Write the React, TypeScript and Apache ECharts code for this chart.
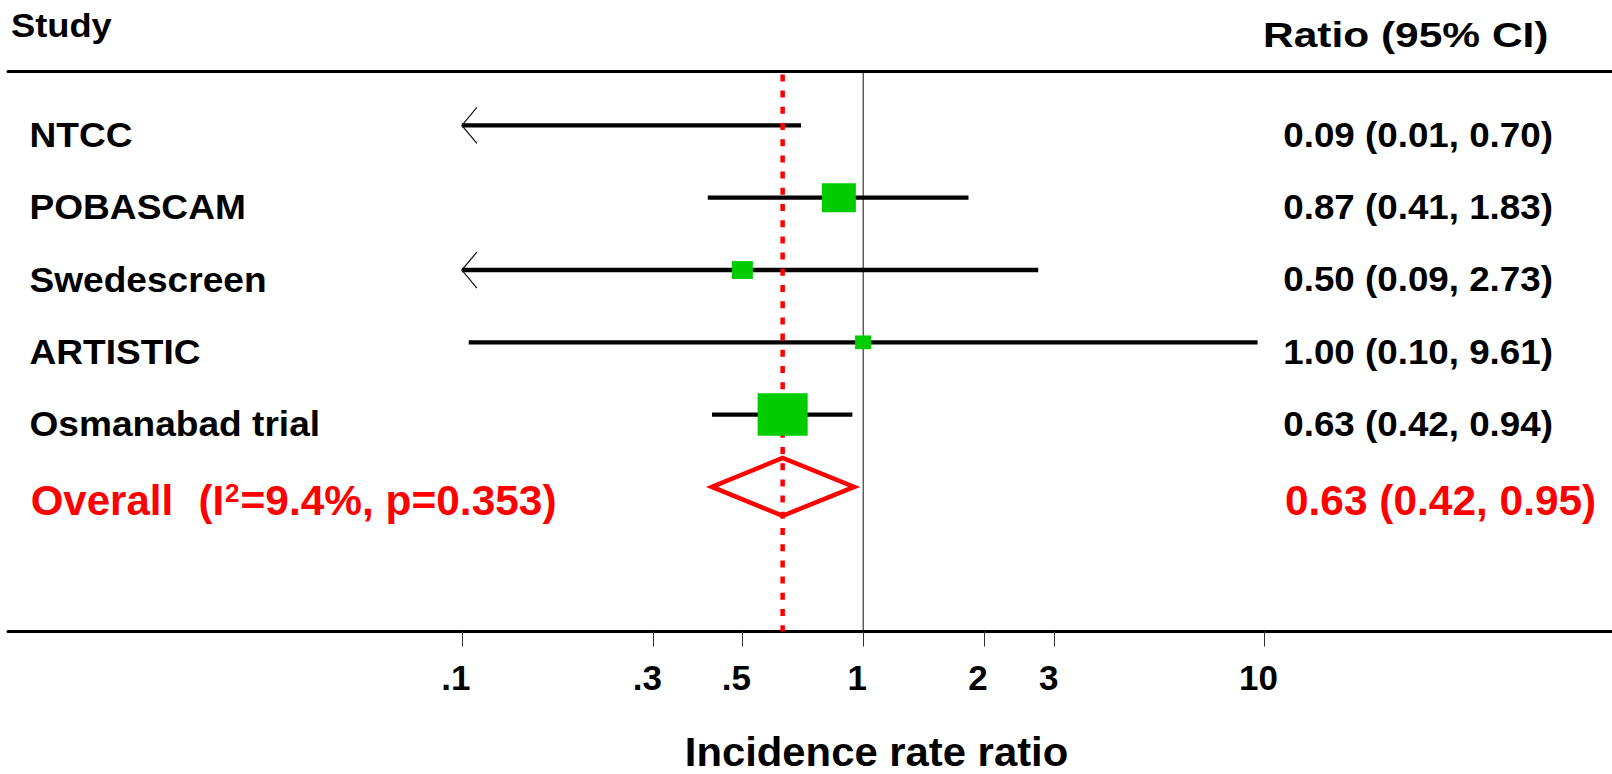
import React, { useEffect, useRef } from "react";
import * as echarts from "echarts";

// ---- data ----
const studies = ["NTCC", "POBASCAM", "Swedescreen", "ARTISTIC", "Osmanabad trial"];
const ratios = [0.09, 0.87, 0.5, 1.0, 0.63];
const ciLow = [0.01, 0.41, 0.09, 0.104, 0.42];
const ciHigh = [0.7, 1.83, 2.73, 9.61, 0.94];
const weights = [1.5, 26.0, 10.0, 5.9, 56.6];
const overallEst = 0.63;
const overallLow = 0.42;
const overallHigh = 0.95;
const overallI2 = "9.4%";
const overallP = "0.353";
const tickValues = [0.1, 0.3, 0.5, 1, 2, 3, 10];
const tickLabels = [".1", ".3", ".5", "1", "2", "3", "10"];
const axisFloor = 0.1;

// ---- layout ----
const X_MIN = -2.131;
const X_MAX = 1.866;
const Y_MIN = -0.75;
const Y_MAX = 7;
const FONT = '"Liberation Sans", Arial, sans-serif';
const GREEN = "#00CC00";
const RED = "#FF0000";

const fmt = (v: number) => v.toFixed(2);

export default function App() {
  const ref = useRef<HTMLDivElement>(null);
  useEffect(() => {
    if (!ref.current) return;
    const chart = echarts.init(ref.current, null, { renderer: "svg" });
    const lg = (v: number) => Math.log10(v);
    const floorLog = lg(axisFloor);
    const overallRow = studies.length;

    const option: any = {
      animation: false,
      backgroundColor: "#ffffff",
      grid: { left: 8, right: 0, top: 71.2, bottom: 142.5, containLabel: false, outerBoundsMode: "none" },
      xAxis: [
        {
          type: "value",
          position: "bottom",
          min: X_MIN,
          max: X_MAX,
          splitLine: { show: false },
          axisLine: { show: true, onZero: false, lineStyle: { color: "#000", width: 3 } },
          axisTick: { show: true, customValues: tickValues.map(lg), length: 15, lineStyle: { color: "#333", width: 1 } },
          axisLabel: {
            show: true,
            customValues: tickValues.map(lg),
            formatter: (val: number) => {
              const i = tickValues.findIndex((t) => Math.abs(lg(t) - val) < 1e-6);
              return i >= 0 ? tickLabels[i] : "";
            },
            fontSize: 35,
            fontWeight: "bold",
            fontFamily: FONT,
            color: "#000",
            margin: 28,
            padding: [0, 12, 0, 0],
          },
        },
        {
          type: "value",
          position: "top",
          min: X_MIN,
          max: X_MAX,
          splitLine: { show: false },
          axisLine: { show: true, onZero: false, lineStyle: { color: "#000", width: 3 } },
          axisTick: { show: false },
          axisLabel: { show: false },
        },
      ],
      yAxis: { type: "value", min: Y_MIN, max: Y_MAX, inverse: true, show: false },
      series: [
        {
          type: "line",
          z: 1,
          silent: true,
          symbol: "none",
          data: [[0, Y_MIN], [0, Y_MAX]],
          lineStyle: { color: "#111", width: 1 },
        },
        {
          type: "custom",
          z: 2,
          silent: true,
          encode: { x: [0, 1], y: 2 },
          data: studies.map((_, i) => [lg(ciLow[i]), lg(ciHigh[i]), i]),
          renderItem: (_p: any, api: any) => {
            const lo = api.value(0);
            const hi = api.value(1);
            const row = api.value(2);
            const p1 = api.coord([Math.max(lo, floorLog), row]);
            const p2 = api.coord([hi, row]);
            const children: any[] = [
              {
                type: "line",
                shape: { x1: p1[0], y1: p1[1], x2: p2[0], y2: p2[1] },
                style: { stroke: "#000", lineWidth: 4.3 },
              },
            ];
            if (lo < floorLog) {
              children.push({
                type: "polyline",
                shape: { points: [[p1[0] + 15, p1[1] - 18], [p1[0], p1[1]], [p1[0] + 15, p1[1] + 18]] },
                style: { stroke: "#111", lineWidth: 1.2, fill: "none" },
              });
            }
            return { type: "group", children };
          },
        },
        {
          type: "line",
          z: 3,
          silent: true,
          symbol: "none",
          data: [[lg(overallEst), Y_MIN], [lg(overallEst), Y_MAX]],
          lineStyle: { color: RED, width: 4.5, type: [7, 9.2], dashOffset: 12.9 },
        },
        {
          type: "custom",
          z: 4,
          silent: true,
          encode: { x: 0, y: 1 },
          data: studies
            .map((_, i) => [lg(ratios[i]), i, weights[i]])
            .filter((d) => d[0] >= floorLog),
          renderItem: (_p: any, api: any) => {
            const c = api.coord([api.value(0), api.value(1)]);
            const w = 6.65 * Math.sqrt(api.value(2));
            const h = w * 0.85;
            return {
              type: "rect",
              shape: { x: c[0] - w / 2, y: c[1] - h / 2, width: w, height: h },
              style: { fill: GREEN },
            };
          },
        },
        {
          type: "custom",
          z: 4,
          silent: true,
          encode: { x: [0, 1, 2], y: 3 },
          data: [[lg(overallLow), lg(overallEst), lg(overallHigh), overallRow]],
          renderItem: (_p: any, api: any) => {
            const row = api.value(3);
            const l = api.coord([api.value(0), row]);
            const t = api.coord([api.value(1), row - 0.4]);
            const r = api.coord([api.value(2), row]);
            const b = api.coord([api.value(1), row + 0.4]);
            return {
              type: "polygon",
              shape: { points: [l, t, r, b] },
              style: { stroke: RED, lineWidth: 4.5, fill: "none", lineJoin: "miter" },
            };
          },
        },
      ],
    };
    chart.setOption(option);

    const rowY = (i: number) => (chart.convertToPixel({ gridIndex: 0 }, [0, i]) as number[])[1];
    const ctx = document.createElement("canvas").getContext("2d")!;
    const measure = (s: string, size: number) => {
      ctx.font = `bold ${size}px ${FONT}`;
      return ctx.measureText(s).width;
    };
    const txt = (text: string, x: number, y: number, size: number, color: string, scaleX = 1, align = "left") => ({
      type: "text",
      x,
      y,
      scaleX,
      silent: true,
      style: {
        text,
        x: 0,
        y: 0,
        font: `bold ${size}px ${FONT}`,
        fill: color,
        align,
        textAlign: align,
        verticalAlign: "middle",
        textVerticalAlign: "middle",
      },
    });

    const graphics: any[] = [];
    graphics.push(txt("Study", 11, 26, 33, "#000", 1.1));
    graphics.push(txt("Ratio (95% CI)", 1263, 34, 36, "#000", 1.18));
    studies.forEach((s, i) => {
      const y = rowY(i) + 9.5;
      graphics.push(txt(s, 29.5, y, 35, "#000", 1.06));
      graphics.push(txt(`${fmt(ratios[i])} (${fmt(ciLow[i])}, ${fmt(ciHigh[i])})`, 1283.3, y, 35, "#000", 1.05));
    });
    const oy = rowY(overallRow) + 13.2;
    const ox = 30.7;
    graphics.push(txt("Overall", ox, oy, 42, RED));
    const xParen = ox + measure("Overall  ", 42) + 2;
    graphics.push(txt("(I", xParen, oy, 42, RED));
    const xSup = xParen + measure("(I", 42);
    graphics.push(txt("2", xSup + 1, oy - 7.5, 26, RED));
    const xRest = xSup + 2 + measure("2", 26);
    graphics.push(txt(`=${overallI2}, p=${overallP})`, xRest, oy, 42, RED, 1.01));
    graphics.push(txt(`${fmt(overallEst)} (${fmt(overallLow)}, ${fmt(overallHigh)})`, 1285, oy, 42, RED, 1.01));
    graphics.push(txt("Incidence rate ratio", 876.5, 752.5, 41, "#000", 1.02, "center"));

    chart.setOption({ graphic: graphics });
    return () => chart.dispose();
  }, []);
  return (
    <div
      ref={ref}
      style={{ position: "fixed", left: 0, top: 0, width: 1612, height: 774, background: "#fff" }}
    />
  );
}
